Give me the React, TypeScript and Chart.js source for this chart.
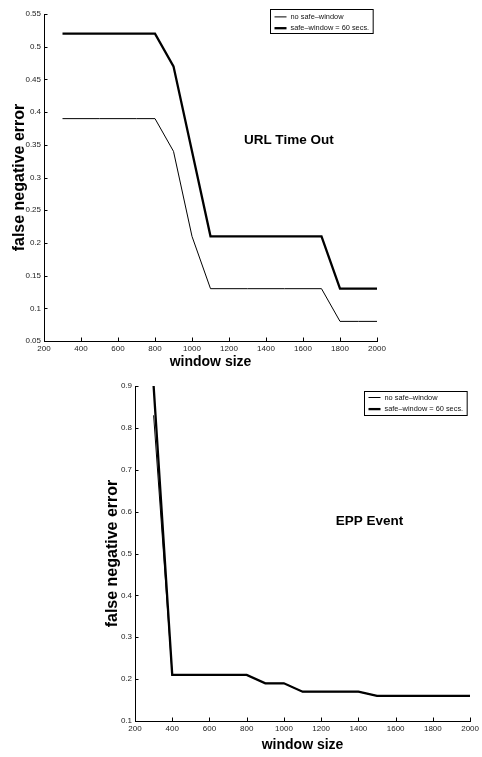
import React, { useEffect, useRef } from 'react';
import { Chart, registerables } from 'chart.js';

Chart.register(...registerables);

// ---------- data ----------
const windowSizes = [300, 400, 500, 600, 700, 800, 900, 1000, 1100, 1200, 1300, 1400, 1500, 1600, 1700, 1800, 1900, 2000];

// URL Time Out
const urlNoSafeWindow = [0.39, 0.39, 0.39, 0.39, 0.39, 0.39, 0.34, 0.21, 0.13, 0.13, 0.13, 0.13, 0.13, 0.13, 0.13, 0.08, 0.08, 0.08];
const urlSafeWindow60 = [0.52, 0.52, 0.52, 0.52, 0.52, 0.52, 0.47, 0.34, 0.21, 0.21, 0.21, 0.21, 0.21, 0.21, 0.21, 0.13, 0.13, 0.13];

// EPP Event
const eppNoSafeWindow = [0.83, 0.21, 0.21, 0.21, 0.21, 0.21, 0.19, 0.19, 0.17, 0.17, 0.17, 0.17, 0.16, 0.16, 0.16, 0.16, 0.16, 0.16];
const eppSafeWindow60 = [0.9, 0.21, 0.21, 0.21, 0.21, 0.21, 0.19, 0.19, 0.17, 0.17, 0.17, 0.17, 0.16, 0.16, 0.16, 0.16, 0.16, 0.16];

const seriesLabels = ['no safe\u2013window', 'safe\u2013window = 60 secs.'];
const xAxisTitle = 'window size';
const yAxisTitle = 'false negative error';
const urlChartTitle = 'URL Time Out';
const eppChartTitle = 'EPP Event';

// axis tick ranges
const xTickRange = [200, 2000, 200];
const urlYTickRange = [0.05, 0.55, 0.05];
const eppYTickRange = [0.1, 0.9, 0.1];

// annotation anchor in data units
const urlTitleAnchor = [1523, 0.357];
const eppTitleAnchor = [1460, 0.577];

// ---------- helpers ----------
function hasFont(name: string): boolean {
  const c = document.createElement('canvas').getContext('2d');
  if (!c) return false;
  const sample = 'abcdefghijklmnop 0123456789 ABCDEFG';
  c.font = '20px monospace';
  const a = c.measureText(sample).width;
  c.font = `20px "${name}", monospace`;
  const b = c.measureText(sample).width;
  return Math.abs(a - b) > 0.5;
}

const decorPlugin = {
  id: 'decor',
  afterDraw(chart: any, _args: any, opts: any) {
    const ctx = chart.ctx as CanvasRenderingContext2D;
    const xs = chart.scales.x;
    const ys = chart.scales.y;
    const area = chart.chartArea;
    ctx.save();
    // inward tick marks
    ctx.strokeStyle = '#000';
    ctx.lineWidth = 1;
    ctx.beginPath();
    xs.ticks.forEach((_t: any, i: number) => {
      const px = Math.round(xs.getPixelForTick(i)) + 0.5;
      ctx.moveTo(px, area.bottom);
      ctx.lineTo(px, area.bottom - opts.tickLen);
    });
    ys.ticks.forEach((_t: any, i: number) => {
      const py = Math.round(ys.getPixelForTick(i)) + 0.5;
      ctx.moveTo(area.left, py);
      ctx.lineTo(area.left + opts.tickLen, py);
    });
    ctx.stroke();

    // in-plot title
    ctx.fillStyle = '#000';
    ctx.font = `bold 13.5px "Liberation Sans", Arial, sans-serif`;
    ctx.textAlign = 'center';
    ctx.textBaseline = 'middle';
    ctx.fillText(opts.label, xs.getPixelForValue(opts.labelAt[0]), ys.getPixelForValue(opts.labelAt[1]));

    // legend box
    const lf = opts.legendFont;
    ctx.font = `${lf.size}px ${lf.family}`;
    const datasets = chart.data.datasets;
    let maxW = 0;
    datasets.forEach((d: any) => {
      maxW = Math.max(maxW, ctx.measureText(d.label).width);
    });
    const sampleLen = 12;
    const padL = 4;
    const gap = 4;
    const padR = 4;
    const w = padL + sampleLen + gap + maxW + padR;
    const h = opts.legendHeight;
    const bx = Math.round(area.right - opts.legendRight - w) + 0.5;
    const by = Math.round(area.top + opts.legendTop) + 0.5;
    ctx.fillStyle = '#fff';
    ctx.fillRect(bx, by, w, h);
    ctx.strokeStyle = '#000';
    ctx.lineWidth = 1;
    ctx.strokeRect(bx, by, w, h);
    datasets.forEach((d: any, i: number) => {
      const ry = by + opts.legendRows[i];
      ctx.strokeStyle = d.borderColor;
      ctx.lineWidth = d.borderWidth;
      ctx.beginPath();
      ctx.moveTo(bx + padL, ry);
      ctx.lineTo(bx + padL + sampleLen, ry);
      ctx.stroke();
      ctx.fillStyle = '#111';
      ctx.textAlign = 'left';
      ctx.textBaseline = 'middle';
      ctx.fillText(d.label, bx + padL + sampleLen + gap, ry);
    });
    ctx.restore();
  },
};

function fmt(v: number): string {
  return String(Number(Number(v).toFixed(2)));
}

function makeConfig(p: any): any {
  const pts = (arr: number[]) => windowSizes.map((w, i) => ({ x: w, y: arr[i] }));
  return {
    type: 'line',
    data: {
      datasets: [
        {
          label: seriesLabels[0],
          data: pts(p.thin),
          borderColor: '#000',
          borderWidth: 1,
          pointRadius: 0,
          fill: false,
          tension: 0,
        },
        {
          label: seriesLabels[1],
          data: pts(p.thick),
          borderColor: '#000',
          borderWidth: 2.3,
          pointRadius: 0,
          fill: false,
          tension: 0,
        },
      ],
    },
    options: {
      responsive: false,
      animation: false,
      devicePixelRatio: 1,
      layout: { padding: p.padding },
      events: [],
      plugins: {
        legend: { display: false },
        tooltip: { enabled: false },
        title: { display: false },
        decor: {
          tickLen: 3.5,
          label: p.label,
          labelAt: p.labelAt,
          legendFont: p.legendFont,
          legendRight: p.legendRight,
          legendTop: p.legendTop,
          legendHeight: 24,
          legendRows: p.legendRows,
        },
      },
      scales: {
        x: {
          type: 'linear',
          min: xTickRange[0],
          max: xTickRange[1],
          afterFit: (s: any) => {
            s.height = p.xScaleHeight;
          },
          grid: { display: false, drawTicks: false },
          border: { display: true, color: '#000', width: 1 },
          ticks: {
            stepSize: xTickRange[2],
            autoSkip: false,
            maxRotation: 0,
            padding: 3,
            color: '#222',
            font: p.tickFont,
            callback: (v: number) => String(v),
          },
          title: {
            display: true,
            text: xAxisTitle,
            color: '#000',
            font: { family: '"Liberation Sans", Arial, sans-serif', size: 14, weight: 'bold' },
            padding: { top: 0, bottom: p.xTitlePad },
          },
        },
        y: {
          type: 'linear',
          min: p.yRange[0],
          max: p.yRange[1],
          afterFit: (s: any) => {
            s.width = p.yScaleWidth;
          },
          grid: { display: false, drawTicks: false },
          border: { display: true, color: '#000', width: 1 },
          ticks: {
            stepSize: p.yRange[2],
            autoSkip: false,
            padding: 3,
            color: '#222',
            font: p.tickFont,
            callback: (v: number) => fmt(v),
          },
          title: {
            display: true,
            text: yAxisTitle,
            color: '#000',
            font: { family: '"Liberation Sans", Arial, sans-serif', size: 16, weight: 'bold' },
            padding: { top: p.yTitlePad, bottom: 0 },
          },
        },
      },
    },
    plugins: [decorPlugin],
  };
}

export default function App() {
  const topRef = useRef<HTMLCanvasElement>(null);
  const botRef = useRef<HTMLCanvasElement>(null);

  useEffect(() => {
    const narrow = hasFont('Liberation Sans Narrow');
    const tickFont = narrow
      ? { family: '"Liberation Sans Narrow", "Liberation Sans", Arial, sans-serif', size: 9 }
      : { family: '"Liberation Sans", Arial, sans-serif', size: 8 };
    const legendFont = narrow
      ? { family: '"Liberation Sans Narrow", "Liberation Sans", Arial, sans-serif', size: 9 }
      : { family: '"Liberation Sans", Arial, sans-serif', size: 7.4 };

    const top = new Chart(
      topRef.current as HTMLCanvasElement,
      makeConfig({
        thin: urlNoSafeWindow,
        thick: urlSafeWindow60,
        yRange: urlYTickRange,
        padding: { top: 14, right: 23, left: 0, bottom: 0 },
        yScaleWidth: 44,
        xScaleHeight: 31,
        yTitlePad: 10.4,
        xTitlePad: 1.6,
        label: urlChartTitle,
        labelAt: urlTitleAnchor,
        legendRight: 4,
        legendTop: -4.7,
        legendRows: [7.4, 18.7],
        tickFont,
        legendFont,
      })
    );
    const bot = new Chart(
      botRef.current as HTMLCanvasElement,
      makeConfig({
        thin: eppNoSafeWindow,
        thick: eppSafeWindow60,
        yRange: eppYTickRange,
        padding: { top: 14, right: 11, left: 0, bottom: 0 },
        yScaleWidth: 135,
        xScaleHeight: 36,
        yTitlePad: 103,
        xTitlePad: 3.6,
        label: eppChartTitle,
        labelAt: eppTitleAnchor,
        legendRight: 3.3,
        legendTop: 4.7,
        legendRows: [6, 17.6],
        tickFont,
        legendFont,
      })
    );
    return () => {
      top.destroy();
      bot.destroy();
    };
  }, []);

  return (
    <div style={{ position: 'absolute', left: 0, top: 0, width: 482, height: 757, background: '#fff' }}>
      <canvas
        ref={topRef}
        width={400}
        height={372}
        style={{ position: 'absolute', left: 0, top: 0, width: 400, height: 372 }}
      />
      <canvas
        ref={botRef}
        width={482}
        height={385}
        style={{ position: 'absolute', left: 0, top: 372, width: 482, height: 385 }}
      />
    </div>
  );
}
